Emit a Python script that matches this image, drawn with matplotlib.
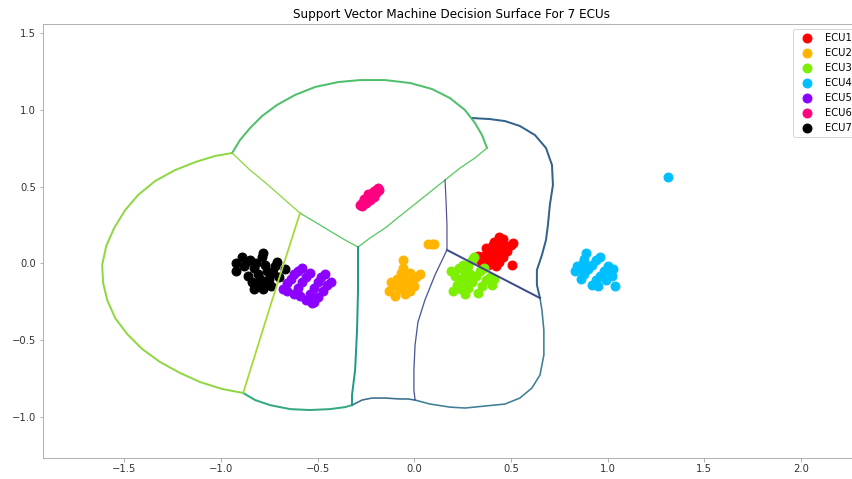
import matplotlib
matplotlib.use("Agg")
import matplotlib.pyplot as plt

# cluster points
ecu1_x = [0.34, 0.36, 0.38, 0.40, 0.41, 0.38, 0.40, 0.42, 0.44, 0.45, 0.46, 0.42, 0.44, 0.46, 0.48,
          0.50, 0.51, 0.33, 0.37, 0.43, 0.39, 0.47, 0.505, 0.45, 0.41, 0.44, 0.35]
ecu1_y = [0.02, 0.05, 0.08, 0.11, 0.14, -0.01, 0.02, 0.06, 0.10, 0.14, 0.16, -0.02, 0.01, 0.04, 0.08,
          0.12, 0.13, 0.05, 0.10, 0.03, 0.04, 0.11, -0.01, 0.06, 0.00, 0.17, 0.00]

ecu2_x = [-0.13, -0.11, -0.09, -0.07, -0.06, -0.06, -0.10, -0.08, -0.06, -0.04, -0.02, -0.05, -0.03,
          -0.01, 0.01, 0.03, -0.12, -0.08, -0.04, -0.02, 0.00, 0.07, 0.09, 0.10]
ecu2_y = [-0.18, -0.14, -0.10, -0.06, -0.03, 0.02, -0.21, -0.17, -0.13, -0.09, -0.06, -0.20, -0.16,
          -0.12, -0.09, -0.07, -0.12, -0.13, -0.14, -0.18, -0.15, 0.125, 0.125, 0.125]

ecu3_x = [0.20, 0.22, 0.24, 0.26, 0.28, 0.30, 0.31, 0.26, 0.28, 0.30, 0.32, 0.34, 0.36, 0.33, 0.35,
          0.37, 0.39, 0.41, 0.40, 0.19, 0.21, 0.23, 0.25, 0.27, 0.24, 0.29]
ecu3_y = [-0.18, -0.14, -0.10, -0.06, -0.02, 0.02, 0.04, -0.20, -0.16, -0.12, -0.08, -0.05, -0.03,
          -0.19, -0.15, -0.11, -0.09, -0.10, -0.14, -0.05, -0.08, -0.03, -0.01, -0.12, -0.17, -0.07]

ecu4_x = [0.83, 0.85, 0.87, 0.88, 0.89, 0.86, 0.88, 0.90, 0.92, 0.94, 0.96, 0.92, 0.94, 0.96, 0.98,
          1.00, 1.01, 1.02, 1.03, 1.04, 0.99, 0.95, 0.84, 1.31]
ecu4_y = [-0.05, -0.03, 0.00, 0.03, 0.065, -0.10, -0.07, -0.04, -0.01, 0.02, 0.04, -0.14, -0.11,
          -0.08, -0.05, -0.02, -0.04, -0.08, -0.04, -0.15, -0.11, -0.15, -0.02, 0.565]

ecu5_x = [-0.68, -0.66, -0.64, -0.62, -0.60, -0.58, -0.62, -0.60, -0.58, -0.56, -0.54, -0.56, -0.54,
          -0.52, -0.50, -0.48, -0.46, -0.53, -0.50, -0.47, -0.45, -0.43, -0.66, -0.59, -0.52]
ecu5_y = [-0.17, -0.13, -0.10, -0.07, -0.05, -0.03, -0.20, -0.16, -0.12, -0.09, -0.06, -0.24, -0.20,
          -0.16, -0.12, -0.09, -0.07, -0.26, -0.22, -0.18, -0.14, -0.12, -0.18, -0.21, -0.25]

ecu6_x = [-0.28, -0.27, -0.26, -0.25, -0.24, -0.23, -0.22, -0.21, -0.20, -0.19, -0.27, -0.25, -0.23,
          -0.21, -0.24, -0.22, -0.20, -0.26, -0.18]
ecu6_y = [0.38, 0.39, 0.40, 0.42, 0.43, 0.44, 0.46, 0.47, 0.48, 0.49, 0.37, 0.39, 0.41, 0.43, 0.45,
          0.44, 0.46, 0.42, 0.48]

ecu7_x = [-0.92, -0.92, -0.89, -0.88, -0.86, -0.84, -0.85, -0.83, -0.81, -0.80, -0.78, -0.82, -0.79,
          -0.78, -0.77, -0.76, -0.75, -0.74, -0.73, -0.72, -0.71, -0.70, -0.76, -0.67, -0.80, -0.87, -0.83]
ecu7_y = [0.00, -0.05, 0.04, -0.02, -0.08, -0.12, 0.02, -0.03, -0.07, -0.14, -0.17, 0.00, 0.04,
          0.07, -0.01, -0.05, -0.10, -0.15, -0.06, -0.02, 0.01, -0.09, -0.12, -0.04, -0.10, 0.01, -0.17]

labels = ["ECU1", "ECU2", "ECU3", "ECU4", "ECU5", "ECU6", "ECU7"]
colors = ["#ff0000", "#ffb400", "#7cf000", "#00bfff", "#8b00ff", "#ff0080", "#000000"]
xs = [ecu1_x, ecu2_x, ecu3_x, ecu4_x, ecu5_x, ecu6_x, ecu7_x]
ys = [ecu1_y, ecu2_y, ecu3_y, ecu4_y, ecu5_y, ecu6_y, ecu7_y]

# decision boundary pieces (x list, y list, colour, width)
left_arc_x = [-0.942, -1.030, -1.133, -1.237, -1.340, -1.428, -1.495, -1.552, -1.593, -1.614, -1.609,
              -1.588, -1.547, -1.485, -1.407, -1.314, -1.211, -1.107, -0.994, -0.885]
left_arc_y = [0.718, 0.699, 0.659, 0.607, 0.536, 0.445, 0.347, 0.230, 0.113, -0.011, -0.128,
              -0.239, -0.356, -0.460, -0.558, -0.643, -0.714, -0.773, -0.818, -0.844]
bottom_left_x = [-0.885, -0.823, -0.746, -0.642, -0.539, -0.436, -0.358, -0.322]
bottom_left_y = [-0.844, -0.890, -0.923, -0.949, -0.955, -0.949, -0.936, -0.923]
bottom_mid_x = [-0.322, -0.270, -0.219, -0.151, -0.074, -0.033, 0.004]
bottom_mid_y = [-0.923, -0.890, -0.877, -0.877, -0.883, -0.883, -0.890]
lobe_low_x = [0.004, 0.081, 0.184, 0.262, 0.365, 0.469, 0.546, 0.608, 0.650, 0.670, 0.670, 0.660, 0.650]
lobe_low_y = [-0.890, -0.916, -0.936, -0.942, -0.929, -0.916, -0.877, -0.812, -0.727, -0.597, -0.434,
              -0.304, -0.226]
lobe_up_x = [0.650, 0.634, 0.634, 0.660, 0.681, 0.691, 0.701, 0.717, 0.712, 0.681, 0.624, 0.546,
             0.469, 0.391, 0.298]
lobe_up_y = [-0.226, -0.141, -0.044, 0.054, 0.152, 0.249, 0.380, 0.510, 0.640, 0.751, 0.835, 0.894,
             0.926, 0.939, 0.946]
dome_x = [-0.942, -0.901, -0.849, -0.787, -0.710, -0.617, -0.513, -0.394, -0.281, -0.151, -0.022,
          0.091, 0.184, 0.262, 0.314, 0.350, 0.376]
dome_y = [0.718, 0.803, 0.881, 0.959, 1.031, 1.096, 1.148, 1.180, 1.193, 1.193, 1.174, 1.135, 1.076,
          0.998, 0.913, 0.835, 0.751]
diag_x = [0.376, 0.314, 0.236, 0.159, 0.081, 0.004, -0.074, -0.151, -0.229, -0.291]
diag_y = [0.751, 0.686, 0.620, 0.542, 0.464, 0.386, 0.308, 0.230, 0.165, 0.106]
split_a_x = [-0.942, -0.849, -0.756, -0.668, -0.591]
split_a_y = [0.718, 0.607, 0.510, 0.412, 0.327]
split_b_x = [-0.591, -0.513, -0.436, -0.358, -0.291]
split_b_y = [0.327, 0.269, 0.210, 0.152, 0.106]
split_c_x = [-0.591, -0.735, -0.885]
split_c_y = [0.327, -0.239, -0.844]
mid_vert_x = [-0.291, -0.291, -0.296, -0.306, -0.322, -0.322]
mid_vert_y = [0.106, -0.174, -0.434, -0.695, -0.857, -0.923]
red_orange_x = [0.159, 0.164, 0.169, 0.169]
red_orange_y = [0.542, 0.412, 0.249, 0.087]
red_green_x = [0.169, 0.650]
red_green_y = [0.087, -0.226]
orange_green_x = [0.169, 0.107, 0.055, 0.019, 0.004, -0.002, -0.002, 0.004]
orange_green_y = [0.087, -0.076, -0.239, -0.382, -0.532, -0.695, -0.825, -0.890]

boundaries = [
    (left_arc_x, left_arc_y, "#8fd744", 2.0),
    (bottom_left_x, bottom_left_y, "#34a97e", 2.0),
    (bottom_mid_x, bottom_mid_y, "#3a6e8d", 1.6),
    (lobe_low_x, lobe_low_y, "#3f7f95", 1.6),
    (lobe_up_x, lobe_up_y, "#33628c", 2.0),
    (dome_x, dome_y, "#4fbf6c", 2.0),
    (diag_x, diag_y, "#5cc863", 1.3),
    (split_a_x, split_a_y, "#8fd744", 1.3),
    (split_b_x, split_b_y, "#5cc863", 1.3),
    (split_c_x, split_c_y, "#a5db36", 1.8),
    (mid_vert_x, mid_vert_y, "#23998a", 2.0),
    (red_orange_x, red_orange_y, "#5b4a91", 1.2),
    (red_green_x, red_green_y, "#3f4a8a", 2.0),
    (orange_green_x, orange_green_y, "#48589a", 1.3),
]

fig = plt.figure(figsize=(852 / 72, 479 / 72), dpi=72)
ax = fig.add_axes([43 / 852, 21.5 / 479, 818 / 852, 433.5 / 479])

for x, y, c, lab in zip(xs, ys, colors, labels):
    ax.scatter(x, y, s=80, color=c, label=lab, zorder=2)

for bx, by, c, lw in boundaries:
    ax.plot(bx, by, color=c, linewidth=lw, zorder=3)

ax.set_xlim(-1.92, 2.31)
ax.set_ylim(-1.264, 1.558)
ax.set_xticks([-1.5, -1.0, -0.5, 0.0, 0.5, 1.0, 1.5, 2.0])
ax.set_yticks([-1.0, -0.5, 0.0, 0.5, 1.0, 1.5])
for s in ax.spines.values():
    s.set_color("#a0a0a0")
ax.tick_params(colors="#a0a0a0", labelcolor="#333333", labelsize=10)
ax.set_title("Support Vector Machine Decision Surface For 7 ECUs", fontsize=12, pad=6)
ax.legend(loc="upper right", fontsize=10)

fig.savefig("out.png", dpi=72)
